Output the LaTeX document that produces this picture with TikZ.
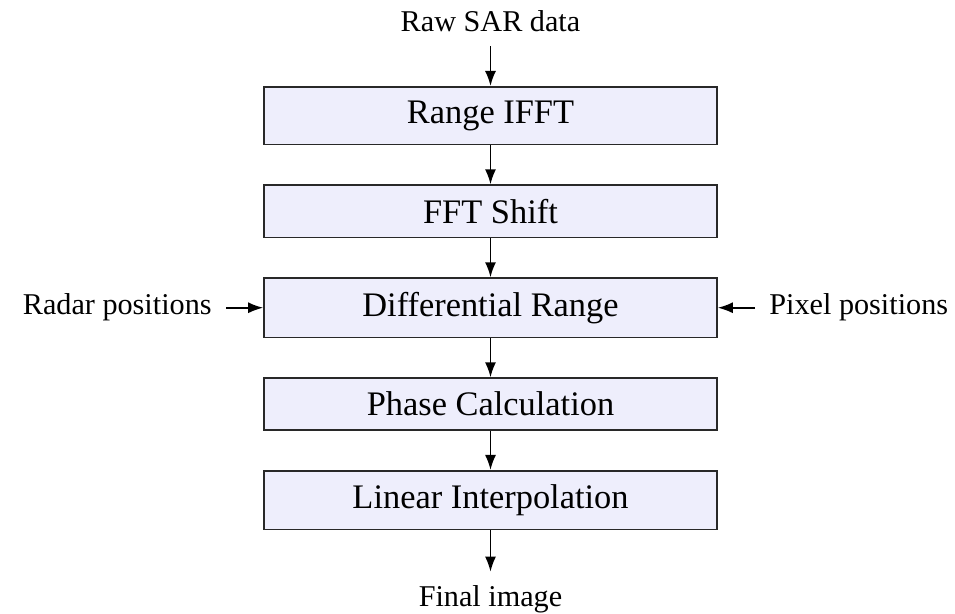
\documentclass[tikz,border=0pt]{standalone}
\usepackage{fontspec}
\setmainfont{Liberation Serif}
\usetikzlibrary{positioning,arrows.meta}
\definecolor{boxfill}{RGB}{238,238,252}
\definecolor{boxdraw}{RGB}{40,40,40}
\begin{document}
\begin{tikzpicture}[x=0.5pt,y=-0.5pt,
  procbox/.style={draw=boxdraw, fill=boxfill, line width=0.8pt,
    minimum width=226.5pt, inner ysep=6.9pt,
    font=\fontsize{17.2}{20}\selectfont},
  lbl/.style={inner sep=7pt, font=\fontsize{15.1}{18}\selectfont},
  arr/.style={-{Latex[length=7.5pt,width=5.5pt]}, line width=0.85pt},
  node distance=19.6pt]
\useasboundingbox (0,0) rectangle (955,614);
\node[procbox, anchor=north] (b1) at (490.5,86) {Range IFFT};
\node[procbox, below=of b1] (b2) {FFT Shift};
\node[procbox, below=of b2] (b3) {Differential Range};
\node[procbox, below=of b3] (b4) {Phase Calculation};
\node[procbox, below=of b4] (b5) {Linear Interpolation};
\node[lbl, anchor=base] (raw) at (490.5,31.5) {Raw SAR data};
\node[lbl, anchor=base] (fin) at (490.5,607) {Final image};
\node[lbl, anchor=base east] (radar) at (226,315) {Radar positions};
\node[lbl, anchor=base west] (pixel) at (755,315) {Pixel positions};
\draw[arr] (raw.south) -- (b1.north);
\draw[arr] (b1) -- (b2);
\draw[arr] (b2) -- (b3);
\draw[arr] (b3) -- (b4);
\draw[arr] (b4) -- (b5);
\draw[arr] (b5.south) -- (fin.north);
\draw[arr] (radar.east |- b3.west) -- (b3.west);
\draw[arr] (pixel.west |- b3.east) -- (b3.east);
\end{tikzpicture}
\end{document}
